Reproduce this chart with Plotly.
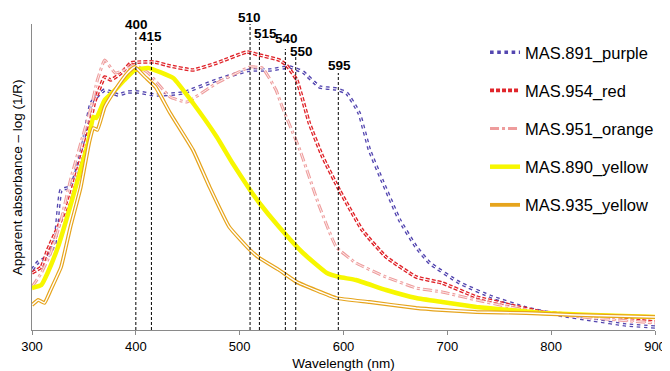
import plotly.graph_objects as go

# ---------------- data ----------------
wl_891 = [300, 306, 315, 322, 328, 337, 344, 351, 357, 370, 383, 392, 402, 418, 445, 478, 510, 529, 548, 561, 577, 593, 603, 615, 625, 637, 654, 670, 683, 712, 743, 776, 808, 840, 872, 900]
ab_891 = [0.60, 0.68, 0.73, 0.87, 1.40, 1.43, 1.63, 1.97, 2.27, 2.40, 2.35, 2.38, 2.38, 2.35, 2.37, 2.50, 2.60, 2.60, 2.63, 2.58, 2.43, 2.41, 2.37, 2.17, 1.80, 1.50, 1.10, 0.83, 0.67, 0.47, 0.33, 0.22, 0.15, 0.10, 0.05, 0.03]

wl_954 = [300, 309, 315, 325, 335, 344, 354, 360, 370, 376, 386, 395, 405, 418, 433, 455, 478, 507, 519, 538, 545, 555, 567, 580, 596, 618, 641, 670, 695, 728, 760, 791, 824, 856, 900]
ab_954 = [0.57, 0.63, 0.80, 1.03, 1.27, 1.60, 1.97, 2.27, 2.53, 2.50, 2.57, 2.67, 2.68, 2.68, 2.64, 2.60, 2.67, 2.78, 2.75, 2.70, 2.65, 2.50, 2.07, 1.73, 1.40, 1.00, 0.73, 0.53, 0.47, 0.33, 0.25, 0.18, 0.15, 0.12, 0.08]

wl_951 = [300, 309, 318, 328, 337, 347, 357, 363, 370, 380, 389, 399, 412, 433, 449, 478, 510, 522, 535, 541, 558, 577, 593, 612, 641, 670, 695, 728, 760, 791, 840, 900]
ab_951 = [0.43, 0.57, 0.77, 1.10, 1.50, 1.87, 2.23, 2.50, 2.70, 2.57, 2.60, 2.65, 2.57, 2.33, 2.28, 2.47, 2.63, 2.62, 2.40, 2.23, 1.80, 1.23, 0.83, 0.67, 0.53, 0.42, 0.38, 0.30, 0.23, 0.17, 0.12, 0.07]

wl_890 = [300, 309, 315, 325, 335, 344, 354, 359, 362, 370, 380, 389, 399, 412, 436, 455, 478, 493, 510, 519, 538, 561, 584, 596, 612, 641, 670, 695, 728, 760, 791, 840, 900]
ab_890 = [0.42, 0.45, 0.57, 0.83, 1.17, 1.50, 1.87, 2.13, 2.12, 2.30, 2.40, 2.50, 2.60, 2.62, 2.52, 2.27, 1.93, 1.67, 1.40, 1.27, 1.03, 0.77, 0.57, 0.53, 0.50, 0.40, 0.32, 0.28, 0.23, 0.20, 0.17, 0.15, 0.13]

wl_935 = [300, 306, 312, 318, 328, 337, 347, 355, 359, 363, 370, 380, 392, 399, 409, 419, 433, 455, 471, 490, 510, 519, 538, 555, 593, 625, 670, 695, 728, 776, 824, 900]
ab_935 = [0.25, 0.30, 0.27, 0.40, 0.63, 1.03, 1.43, 1.87, 2.02, 2.00, 2.23, 2.40, 2.57, 2.63, 2.53, 2.43, 2.17, 1.80, 1.43, 1.03, 0.80, 0.72, 0.60, 0.48, 0.32, 0.28, 0.22, 0.20, 0.18, 0.17, 0.15, 0.13]

series_names = ["MAS.891_purple", "MAS.954_red", "MAS.951_orange", "MAS.890_yellow", "MAS.935_yellow"]

# wavelengths where the dashed marker lines are drawn in the reference, and their labels
peak_line_wavelengths = [400, 415, 510, 519, 544, 554, 595]
peak_labels = ["400", "415", "510", "515", "540", "550", "595"]

x_ticks = [300, 400, 500, 600, 700, 800, 900]

# ---------------- layout helpers (styles / positions) ----------------
Y_MAX = 3.06
peak_line_tops = [3.00, 2.87, 3.06, 2.91, 2.81, 2.74, 2.57]
peak_label_y = [3.06, 2.93, 3.13, 2.97, 2.91, 2.79, 2.65]
peak_label_xshift = [1, -1, -1, 6, 1, 6, 1]

FONT = "Liberation Sans, Arial, sans-serif"

fig = go.Figure()

# vertical dashed marker lines
for wl, top in zip(peak_line_wavelengths, peak_line_tops):
    fig.add_shape(type="line", xref="x", yref="y", x0=wl, x1=wl, y0=0, y1=top,
                  line=dict(color="black", width=1, dash="3px,2px"), layer="above")

styles = [
    dict(color="#5447b0", width=3.6, dash="dot", inner=1.0),
    dict(color="#e0252b", width=3.6, dash="4px,2px", inner=1.0),
    dict(color="#ee9c9c", width=3.0, dash="dashdot", inner=0.8),
    dict(color="#f7f700", width=4.5, dash="solid", inner=0),
    dict(color="#e6a41c", width=3.8, dash="solid", inner=1.4),
]
datasets = [(wl_891, ab_891), (wl_954, ab_954), (wl_951, ab_951), (wl_890, ab_890), (wl_935, ab_935)]

for name, (wx, wy), st in zip(series_names, datasets, styles):
    fig.add_trace(go.Scatter(x=wx, y=wy, mode="lines", name=name, legendgroup=name,
                             line=dict(color=st["color"], width=st["width"], dash=st["dash"], shape="spline", smoothing=0.35)))
    if st["inner"] > 0:
        fig.add_trace(go.Scatter(x=wx, y=wy, mode="lines", name=name, legendgroup=name, showlegend=False,
                                 hoverinfo="skip",
                                 line=dict(color="white", width=st["inner"], shape="spline", smoothing=0.35)))

# labels use paper y so those above the axis top are still drawn
for wl, ly, lab, xs in zip(peak_line_wavelengths, peak_label_y, peak_labels, peak_label_xshift):
    fig.add_annotation(x=wl, xref="x", y=ly / Y_MAX, yref="paper", text="<b>" + lab + "</b>", showarrow=False,
                       xanchor="center", yanchor="middle", xshift=xs,
                       font=dict(family=FONT, size=13.5, color="black"))

fig.add_annotation(xref="paper", yref="paper", x=-0.0235, y=0.5,
                   text="Apparent absorbance \u2013 log (1/R)", textangle=-90, showarrow=False,
                   xanchor="center", yanchor="middle", xshift=0,
                   font=dict(family=FONT, size=13.5, color="black"))

# the page adds an 8 px body margin, so the figure is sized to fit inside it
fig.update_layout(
    width=662, height=363,
    margin=dict(l=24, r=14, t=16, b=41),
    paper_bgcolor="white", plot_bgcolor="white",
    font=dict(family=FONT, size=13, color="black"),
    showlegend=True,
    legend=dict(x=0.726, y=0.964, xanchor="left", yanchor="top",
                font=dict(family=FONT, size=16.5, color="black"),
                tracegroupgap=13.7, bgcolor="rgba(0,0,0,0)", itemwidth=30),
    xaxis=dict(range=[300, 900], tickmode="array", tickvals=x_ticks,
               ticktext=[str(t) for t in x_ticks], automargin=False,
               showgrid=False, zeroline=False, showline=True, linecolor="#8a8a8a", linewidth=1,
               ticks="outside", ticklen=4, tickcolor="#8a8a8a",
               tickfont=dict(family=FONT, size=13, color="black"),
               title=dict(text="Wavelength (nm)", font=dict(family=FONT, size=13.5, color="black"), standoff=6)),
    yaxis=dict(range=[0, Y_MAX], showgrid=False, zeroline=False, showline=True, automargin=False,
               linecolor="#8a8a8a", linewidth=1, showticklabels=False, ticks=""),
)

fig.write_html("out.html")
